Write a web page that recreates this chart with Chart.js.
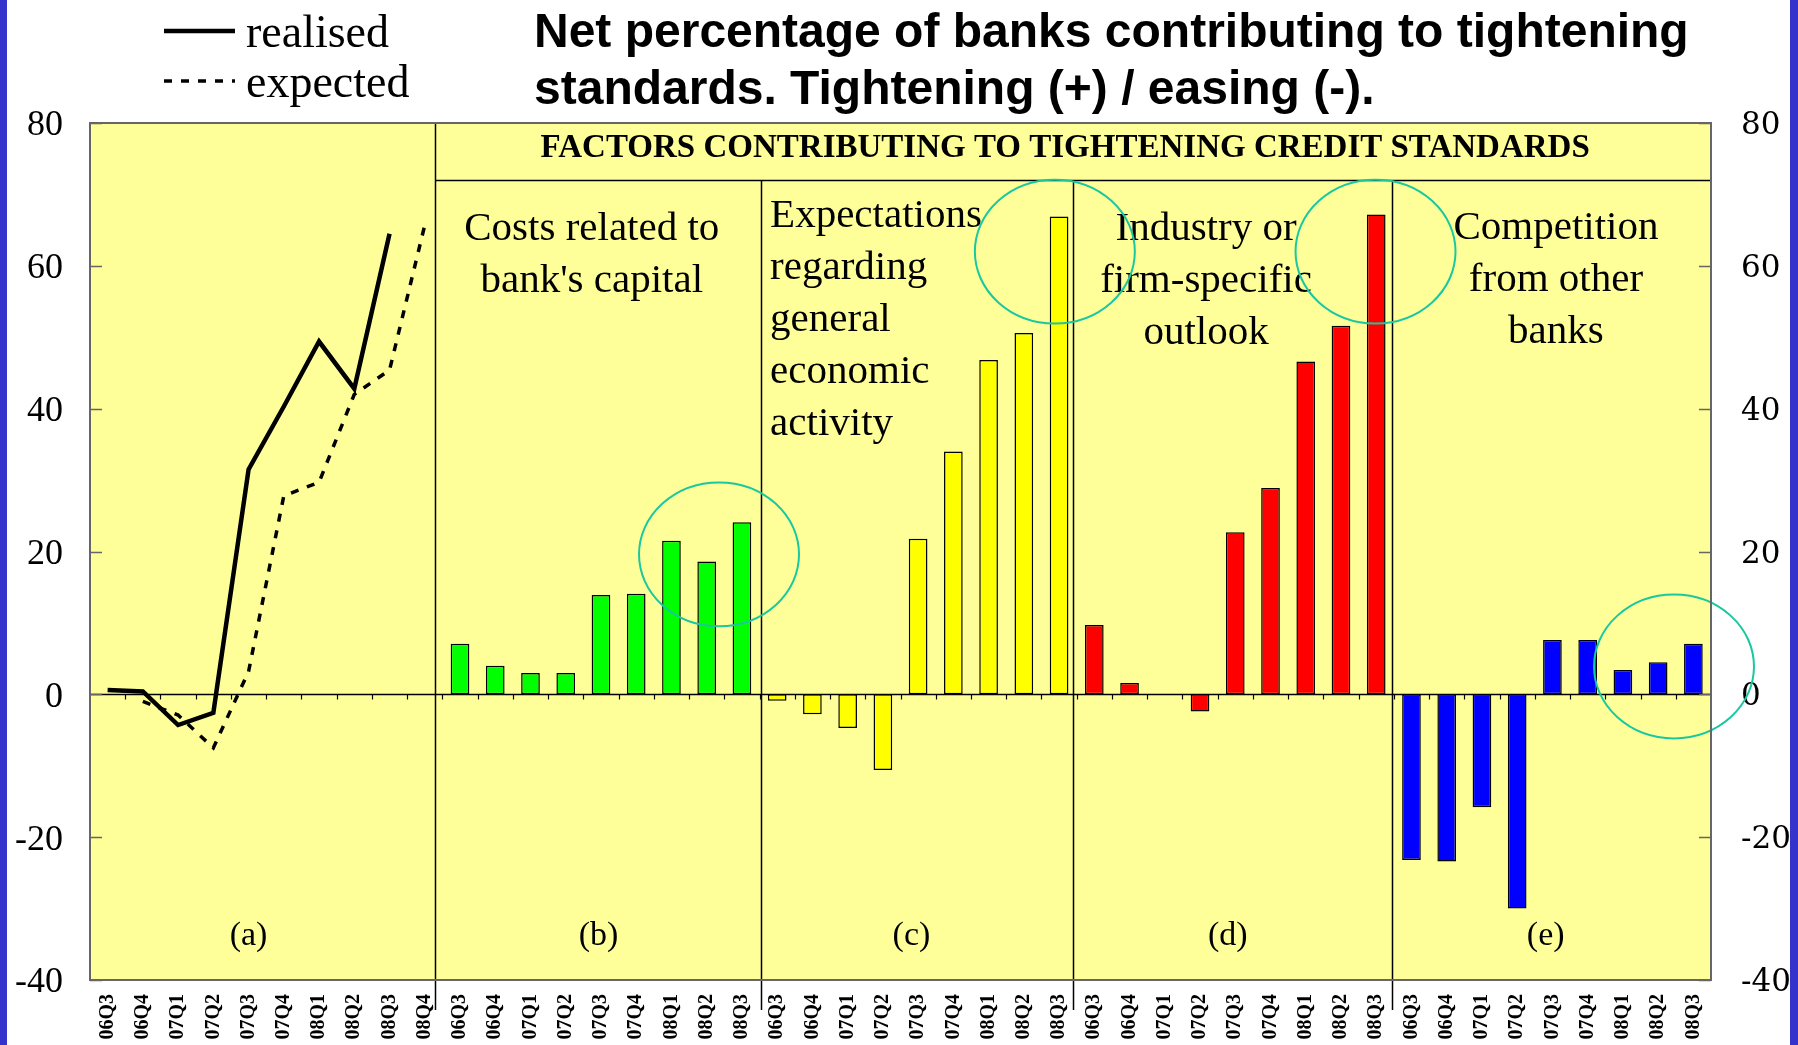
<!DOCTYPE html>
<html>
<head>
<meta charset="utf-8">
<title>Bank lending survey – factors contributing to tightening credit standards</title>
<script src="https://cdn.jsdelivr.net/npm/chart.js@4.4.1/dist/chart.umd.min.js"></script>
<style>
  html, body { margin: 0; padding: 0; background: #fff; overflow: hidden; }
  #wrap { position: relative; width: 1798px; height: 1045px; }
</style>
</head>
<body>
<div id="wrap"><canvas id="chart" width="1798" height="1045"></canvas></div>
<script>
// Survey quarters: panel (a) runs one quarter further than the factor panels
const quartersOverall = ['06Q3', '06Q4', '07Q1', '07Q2', '07Q3', '07Q4', '08Q1', '08Q2', '08Q3', '08Q4'];
const quartersFactor  = ['06Q3', '06Q4', '07Q1', '07Q2', '07Q3', '07Q4', '08Q1', '08Q2', '08Q3'];

// (a) overall credit standards, net percentage
const realised = [0.6, 0.4, -4.3, -2.6, 31.5, 40.3, 49.4, 42.8, 64.5, null];
const expected = [null, -1.0, -2.9, -7.5, 3.2, 27.8, 29.7, 42.0, 45.4, 65.7];

// (b)-(e) factors contributing to tightening
const bankCapital      = [7.1, 4.0, 3.0, 3.0, 13.9, 14.1, 21.5, 18.6, 24.1];
const economicActivity = [-0.9, -2.8, -4.7, -10.6, 21.8, 34.0, 46.8, 50.6, 66.9];
const industryOutlook  = [9.7, 1.6, 0, -2.4, 22.7, 28.9, 46.6, 51.6, 67.2];
const competition      = [-23.2, -23.4, -15.8, -30.0, 7.6, 7.6, 3.4, 4.5, 7.1];

// Value axis ticks
const yTicks = [-40, -20, 0, 20, 40, 60, 80];

// Panel texts
const headerText = 'FACTORS CONTRIBUTING TO TIGHTENING CREDIT STANDARDS';
const panelLetters = ['(a)', '(b)', '(c)', '(d)', '(e)'];
const titleLines = ['Net percentage of banks contributing to tightening',
                    'standards. Tightening (+) / easing (-).'];

// ---- assemble the shared category axis ----
const categories = [].concat(quartersOverall, quartersFactor, quartersFactor, quartersFactor, quartersFactor);
const panelStart = { a: 0, b: 10, c: 19, d: 28, e: 37 };

function place(offset, values) {
  const out = new Array(categories.length).fill(null);
  values.forEach((v, i) => { out[offset + i] = v; });
  return out;
}

const barStyle = { borderColor: '#000', borderWidth: 1.5, borderSkipped: false,
                   grouped: false, barPercentage: 0.53, categoryPercentage: 1 };

const datasets = [
  Object.assign({ type: 'bar', label: "Costs related to bank's capital",
    data: place(panelStart.b, bankCapital), backgroundColor: '#00ff00' }, barStyle),
  Object.assign({ type: 'bar', label: 'Expectations regarding general economic activity',
    data: place(panelStart.c, economicActivity), backgroundColor: '#ffff00' }, barStyle),
  Object.assign({ type: 'bar', label: 'Industry or firm-specific outlook',
    data: place(panelStart.d, industryOutlook), backgroundColor: '#ff0000' }, barStyle),
  Object.assign({ type: 'bar', label: 'Competition from other banks',
    data: place(panelStart.e, competition), backgroundColor: '#0000ff' }, barStyle),
  { type: 'line', label: 'realised', data: place(panelStart.a, realised),
    borderColor: '#000', borderWidth: 4.5, pointRadius: 0, tension: 0, spanGaps: false },
  { type: 'line', label: 'expected', data: place(panelStart.a, expected),
    borderColor: '#000', borderWidth: 3.5, borderDash: [8, 9], pointRadius: 0, tension: 0, spanGaps: false }
];

// ---- annotation layout, in axis units (category index, value) ----
const dividers = [
  { at: 9.3,   from: 80 },   // separates (a) from the factor panels
  { at: 18.55, from: 72 },
  { at: 27.4,  from: 72 },
  { at: 36.45, from: 72 }
];
const headerLineValue = 72;
const panelTexts = [
  { lines: ['Costs related to', "bank's capital"], x: 13.74, y: 63.6, align: 'center' },
  { lines: ['Expectations', 'regarding', 'general', 'economic', 'activity'], x: 18.8, y: 65.5, align: 'left' },
  { lines: ['Industry or', 'firm-specific', 'outlook'], x: 31.17, y: 63.6, align: 'center' },
  { lines: ['Competition', 'from other', 'banks'], x: 41.1, y: 63.75, align: 'center' }
];
const letterPos = [4.0, 13.93, 22.81, 31.79, 40.81];
const highlights = [
  { x: 17.35, y: 19.6 }, { x: 26.88, y: 62.0 }, { x: 35.98, y: 62.0 }, { x: 44.45, y: 3.9 }
];

const serif = '"Liberation Serif", "Times New Roman", serif';
const sans = '"Liberation Sans", Arial, sans-serif';

const decor = {
  id: 'decor',
  beforeDraw(chart) {
    const { ctx, chartArea: a, width, height } = chart;
    ctx.save();
    ctx.fillStyle = '#ffffff';
    ctx.fillRect(0, 0, width, height);
    ctx.fillStyle = '#3434cc';
    ctx.fillRect(0, 0, 7, height);
    ctx.fillRect(width - 8, 0, 8, height);
    ctx.fillStyle = '#ffff99';
    ctx.fillRect(a.left, a.top, a.right - a.left, a.bottom - a.top);
    ctx.restore();
  },
  beforeDatasetsDraw(chart) {
    const { ctx, chartArea: a, scales } = chart;
    const xs = scales.x, ys = scales.y;
    const y0 = Math.round(ys.getPixelForValue(0)) + 0.5;
    ctx.save();
    ctx.strokeStyle = '#000';
    ctx.lineWidth = 1.5;
    ctx.beginPath();
    ctx.moveTo(a.left, y0);
    ctx.lineTo(a.right, y0);
    ctx.stroke();
    ctx.lineWidth = 1.2;
    for (let i = 1; i < categories.length; i++) {
      const xx = Math.round(xs.getPixelForValue(i - 0.5)) + 0.5;
      ctx.beginPath();
      ctx.moveTo(xx, y0);
      ctx.lineTo(xx, y0 + 5);
      ctx.stroke();
    }
    ctx.restore();
  },
  afterDatasetsDraw(chart) {
    const { ctx, chartArea: a, scales } = chart;
    const xs = scales.x, ys = scales.y;
    ctx.save();

    // panel dividers and the header band
    ctx.strokeStyle = '#000';
    ctx.lineWidth = 1.5;
    dividers.forEach(d => {
      const xx = Math.round(xs.getPixelForValue(d.at)) + 0.5;
      ctx.beginPath();
      ctx.moveTo(xx, ys.getPixelForValue(d.from));
      ctx.lineTo(xx, a.bottom + 30);
      ctx.stroke();
    });
    const hy = Math.round(ys.getPixelForValue(headerLineValue)) + 0.5;
    ctx.beginPath();
    ctx.moveTo(xs.getPixelForValue(dividers[0].at), hy);
    ctx.lineTo(a.right, hy);
    ctx.stroke();

    ctx.fillStyle = '#000';
    ctx.textBaseline = 'alphabetic';
    ctx.font = 'bold 33px ' + serif;
    ctx.textAlign = 'center';
    const hx = (xs.getPixelForValue(dividers[0].at) + a.right) / 2 - 8;
    ctx.fillText(headerText, hx, ys.getPixelForValue(75.3));

    // panel titles
    ctx.font = '41px ' + serif;
    panelTexts.forEach(p => {
      ctx.textAlign = p.align;
      const x0 = xs.getPixelForValue(p.x);
      const yTop = ys.getPixelForValue(p.y);
      p.lines.forEach((line, k) => ctx.fillText(line, x0, yTop + k * 52));
    });

    // panel letters
    ctx.font = '34px ' + serif;
    ctx.textAlign = 'center';
    panelLetters.forEach((t, i) => ctx.fillText(t, xs.getPixelForValue(letterPos[i]), ys.getPixelForValue(-35.1)));

    // highlighted recent quarters
    ctx.strokeStyle = '#18c8a0';
    ctx.lineWidth = 2;
    const rx = xs.getPixelForValue(2.27) - xs.getPixelForValue(0);
    const ry = ys.getPixelForValue(0) - ys.getPixelForValue(10.07);
    highlights.forEach(h => {
      ctx.beginPath();
      ctx.ellipse(xs.getPixelForValue(h.x), ys.getPixelForValue(h.y), rx, ry, 0, 0, Math.PI * 2);
      ctx.stroke();
    });

    // plot frame and inward value ticks
    ctx.strokeStyle = '#666';
    ctx.lineWidth = 2;
    ctx.strokeRect(a.left, a.top, a.right - a.left, a.bottom - a.top);
    ctx.lineWidth = 1.3;
    yTicks.forEach(v => {
      const yy = Math.round(ys.getPixelForValue(v)) + 0.5;
      ctx.beginPath();
      ctx.moveTo(a.left, yy); ctx.lineTo(a.left + 12, yy);
      ctx.moveTo(a.right - 12, yy); ctx.lineTo(a.right, yy);
      ctx.stroke();
    });
    ctx.restore();
  },
  afterDraw(chart) {
    const { ctx } = chart;
    ctx.save();
    // legend for panel (a)
    const items = chart.data.datasets.filter(d => d.type === 'line');
    ctx.font = '46px ' + serif;
    ctx.textAlign = 'left';
    ctx.textBaseline = 'alphabetic';
    ctx.fillStyle = '#000';
    items.forEach((d, i) => {
      const ly = 31 + i * 50;
      ctx.strokeStyle = d.borderColor;
      ctx.lineWidth = d.borderWidth;
      ctx.setLineDash(d.borderDash || []);
      ctx.beginPath();
      ctx.moveTo(164, ly);
      ctx.lineTo(235, ly);
      ctx.stroke();
      ctx.setLineDash([]);
      ctx.fillText(d.label, 246, ly + 16);
    });
    // chart title
    ctx.font = 'bold 48px ' + sans;
    titleLines.forEach((t, i) => ctx.fillText(t, 534, 47 + i * 57));
    ctx.restore();
  }
};

const valueTicks = {
  autoSkip: false,
  color: '#000',
  labelOffset: 3,
  callback: v => String(v)
};

new Chart(document.getElementById('chart'), {
  data: { labels: categories, datasets },
  options: {
    responsive: false,
    animation: false,
    events: [],
    layout: { padding: { top: 123, left: 0, right: 0, bottom: 0 } },
    plugins: { legend: { display: false }, tooltip: { enabled: false }, title: { display: false } },
    scales: {
      x: {
        type: 'category',
        offset: true,
        grid: { display: false, drawTicks: false },
        border: { display: false },
        ticks: { autoSkip: false, maxRotation: 90, minRotation: 90, padding: 14, color: '#000',
                 font: { family: serif, size: 20, weight: 'bold' } },
        afterFit: s => { s.height = 65; }
      },
      y: {
        position: 'left',
        min: -40, max: 80,
        grid: { display: false, drawTicks: false },
        border: { display: false },
        ticks: Object.assign({ stepSize: 20, padding: 27, font: { family: serif, size: 36 } }, valueTicks),
        afterFit: s => { s.width = 90; }
      },
      y2: {
        position: 'right',
        min: -40, max: 80,
        grid: { display: false, drawTicks: false },
        border: { display: false },
        ticks: Object.assign({ stepSize: 20, padding: 30, font: { family: '"DejaVu Serif", serif', size: 31 } }, valueTicks),
        afterFit: s => { s.width = 87; }
      }
    }
  },
  plugins: [decor]
});
</script>
</body>
</html>
